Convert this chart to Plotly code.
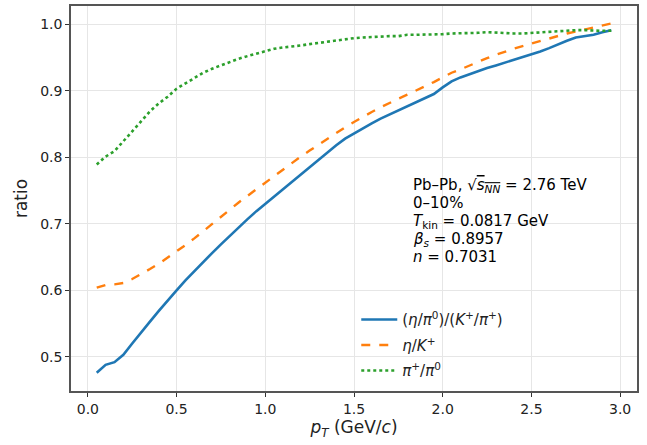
import plotly.graph_objects as go

# pT grid (GeV/c)
pt = [round(0.05 * i, 2) for i in range(1, 60)]

ratio_eta_pi0_over_k_pi = [
    0.476, 0.488, 0.492, 0.503, 0.520, 0.537, 0.553, 0.569, 0.585, 0.600,
    0.615, 0.629, 0.643, 0.656, 0.669, 0.682, 0.694, 0.707, 0.719, 0.730,
    0.741, 0.752, 0.764, 0.775, 0.786, 0.797, 0.808, 0.818, 0.828, 0.836,
    0.844, 0.851, 0.858, 0.864, 0.870, 0.877, 0.883, 0.889, 0.895, 0.905,
    0.914, 0.920, 0.925, 0.930, 0.934, 0.938, 0.942, 0.947, 0.951, 0.955,
    0.959, 0.964, 0.970, 0.975, 0.980, 0.982, 0.984, 0.988, 0.991]

ratio_eta_k = [
    0.604, 0.608, 0.609, 0.611, 0.617, 0.624, 0.632, 0.640, 0.649, 0.658,
    0.668, 0.678, 0.689, 0.700, 0.711, 0.721, 0.732, 0.742, 0.752, 0.762,
    0.772, 0.782, 0.792, 0.801, 0.810, 0.819, 0.828, 0.837, 0.845, 0.853,
    0.861, 0.868, 0.875, 0.882, 0.888, 0.894, 0.900, 0.906, 0.913, 0.920,
    0.927, 0.932, 0.938, 0.944, 0.949, 0.954, 0.959, 0.963, 0.967, 0.971,
    0.975, 0.979, 0.983, 0.986, 0.989, 0.992, 0.995, 0.998, 1.001]

ratio_pi_pi0 = [
    0.789, 0.801, 0.809, 0.824, 0.840, 0.855, 0.869, 0.881, 0.891, 0.903,
    0.911, 0.919, 0.927, 0.933, 0.938, 0.944, 0.948, 0.952, 0.956, 0.960,
    0.963, 0.965, 0.966, 0.968, 0.970, 0.972, 0.974, 0.976, 0.978, 0.979,
    0.980, 0.981, 0.981, 0.982, 0.982, 0.984, 0.984, 0.984, 0.985, 0.985,
    0.986, 0.986, 0.987, 0.987, 0.988, 0.987, 0.987, 0.986, 0.986, 0.987,
    0.987, 0.988, 0.990, 0.991, 0.991, 0.991, 0.990, 0.990, 0.990]

info_lines = [
    "Pb–Pb, √<span style='text-decoration:overline'><i>s</i><sub><i>NN</i></sub></span> = 2.76 TeV",
    "0–10%",
    "<i>T</i><sub>kin</sub> = 0.0817 GeV",
    "<i>β</i><sub><i>s</i></sub> = 0.8957",
    "<i>n</i> = 0.7031",
]

FONT = "DejaVu Sans"

fig = go.Figure()
fig.add_trace(go.Scatter(x=pt, y=ratio_eta_pi0_over_k_pi, mode="lines",
                         name="(<i>η</i>/<i>π</i><sup>0</sup>)/(<i>K</i><sup>+</sup>/<i>π</i><sup>+</sup>)",
                         legendgroup="a",
                         line=dict(color="#1f77b4", width=2.6)))
fig.add_trace(go.Scatter(x=pt, y=ratio_eta_k, mode="lines",
                         name="<i>η</i>/<i>K</i><sup>+</sup>",
                         legendgroup="b",
                         line=dict(color="#ff7f0e", width=2.4, dash="dash")))
fig.add_trace(go.Scatter(x=pt, y=ratio_pi_pi0, mode="lines",
                         name="<i>π</i><sup>+</sup>/<i>π</i><sup>0</sup>",
                         legendgroup="c",
                         line=dict(color="#2ca02c", width=2.6, dash="dot")))

# text block, one line per annotation
for i, txt in enumerate(info_lines):
    fig.add_annotation(x=0.60, y=0.535 - i * 0.0468, xref="paper", yref="paper",
                       text=txt, showarrow=False, xanchor="left", yanchor="middle",
                       font=dict(family=FONT, size=15, color="black"))

axis_common = dict(showline=True, mirror=True, linecolor="#555555", linewidth=1.5,
                   ticks="outside", ticklen=4, tickwidth=1.2, tickcolor="#333333",
                   showgrid=True, gridcolor="#e6e6e6", gridwidth=1, zeroline=False,
                   automargin=False,
                   tickfont=dict(family=FONT, size=14, color="#222222"))

fig.update_xaxes(range=[-0.095, 3.095], tickvals=[0.0, 0.5, 1.0, 1.5, 2.0, 2.5, 3.0],
                 ticktext=["0.0", "0.5", "1.0", "1.5", "2.0", "2.5", "3.0"],
                 title=dict(text="<i>p</i><sub><i>T</i></sub> (GeV/<i>c</i>)",
                            font=dict(family=FONT, size=17, color="#222222"), standoff=6),
                 **axis_common)
fig.update_yaxes(range=[0.4487, 1.0273], tickvals=[0.5, 0.6, 0.7, 0.8, 0.9, 1.0],
                 ticktext=["0.5", "0.6", "0.7", "0.8", "0.9", "1.0"],
                 title=dict(text="ratio", font=dict(family=FONT, size=17, color="#222222"),
                            standoff=8),
                 **axis_common)

fig.update_layout(
    width=647, height=445,
    margin=dict(l=71, r=10, t=6, b=54),
    plot_bgcolor="white", paper_bgcolor="white",
    font=dict(family=FONT, size=14, color="#222222"),
    showlegend=True,
    legend=dict(x=0.504, y=0.228, xanchor="left", yanchor="top",
                bgcolor="rgba(0,0,0,0)", borderwidth=0, itemwidth=36,
                tracegroupgap=3, font=dict(family=FONT, size=15, color="#222222")),
)

# page body has a default 8px margin; drop it so the figure sits at the corner
fig.write_html("out.html", config={"displayModeBar": False},
               post_script="document.body.style.margin='0';")
